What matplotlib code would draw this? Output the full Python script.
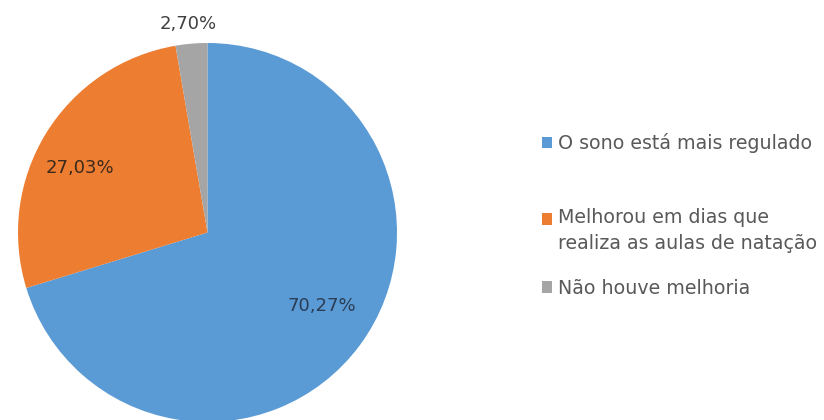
import matplotlib
matplotlib.use("Agg")
import matplotlib.pyplot as plt
from matplotlib.patches import Patch, Rectangle
from matplotlib.legend_handler import HandlerPatch

categories = ["O sono está mais regulado",
              "Melhorou em dias que\nrealiza as aulas de natação",
              "Não houve melhoria"]
values = [70.27, 27.03, 2.70]
value_labels = ["70,27%", "27,03%", "2,70%"]
colors = ["#5B9BD5", "#ED7D31", "#A5A5A5"]

W, H = 824, 420
fig = plt.figure(figsize=(W / 100, H / 100), dpi=100)
fig.patch.set_facecolor("white")

cx, cy, r = 207.5, 232.5, 189.5
ax = fig.add_axes([(cx - r) / W, (H - cy - r) / H, 2 * r / W, 2 * r / H])
wedges, _ = ax.pie(values, colors=colors, startangle=90, counterclock=False,
                   radius=1.0, wedgeprops=dict(linewidth=0))
ax.set_xlim(-1, 1)
ax.set_ylim(-1, 1)
ax.set_aspect("equal")
ax.axis("off")

# data labels
label_px = [(322, 306), (80, 168), (188, 24)]
label_colors = ["#2B3D55", "#3A2A1E", "#404040"]
for (px, py), txt, c in zip(label_px, value_labels, label_colors):
    x = (px - cx) / r
    y = (cy - py) / r
    ax.text(x, y, txt, ha="center", va="center", fontsize=13,
            color=c, family="DejaVu Sans", clip_on=False)


def make_handler(shift_pt):
    def patch_func(legend, orig_handle, xdescent, ydescent, width, height, fontsize):
        return Rectangle((-xdescent, -ydescent + shift_pt), width, height)
    return HandlerPatch(patch_func=patch_func)


legend_y = [143, 230.5, 288]
for lab, col, py in zip(categories, colors, legend_y):
    nlines = lab.count("\n") + 1
    shift = (nlines - 1) * 0.5 * 25 * 0.72  # px -> pt
    h = Patch(facecolor=col, edgecolor="none")
    leg = fig.legend(handles=[h], labels=[lab], loc="center left",
                     bbox_to_anchor=(542 / W, (H - py) / H),
                     frameon=False, fontsize=13.7, handlelength=0.55,
                     handleheight=0.55, handletextpad=0.3,
                     labelcolor="#595959", borderpad=0, borderaxespad=0,
                     handler_map={h: make_handler(shift)})
    for t in leg.get_texts():
        t.set_linespacing(1.45)

fig.savefig("out.png", dpi=100, facecolor="white")
